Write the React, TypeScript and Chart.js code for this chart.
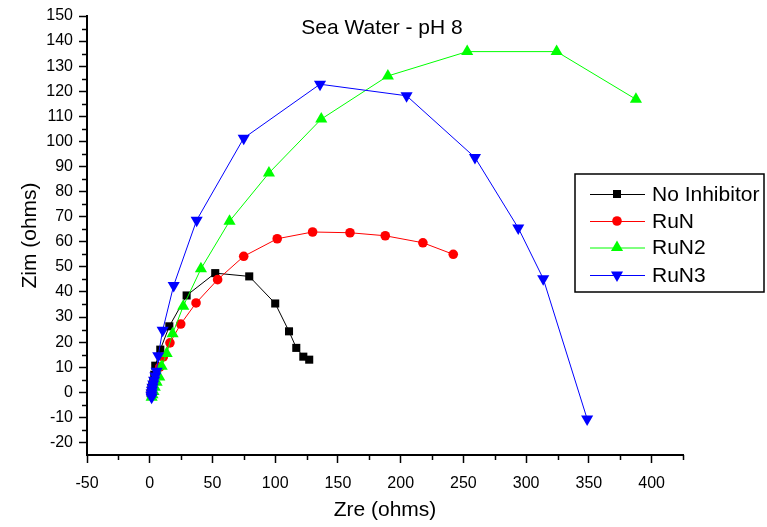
import React, { useEffect, useRef } from 'react';
import { Chart, registerables } from 'chart.js';

Chart.register(...registerables);

const TITLE = 'Sea Water - pH 8';
const X_TITLE = 'Zre (ohms)';
const Y_TITLE = 'Zim (ohms)';
const SERIES_NAMES = ['No Inhibitor', 'RuN', 'RuN2', 'RuN3'];
const SERIES_COLORS = ['#000000', '#ff0000', '#00ff00', '#0000ff'];

const noInhX = [0.7, 1.0, 1.4, 2.0, 2.8, 3.6, 4.4, 8.4, 15.6, 29.4, 52.2, 79.3, 100, 111, 116.8, 122.4, 127.1];
const noInhY = [-0.3, 0.6, 1.5, 2.8, 4.5, 7.0, 10.6, 17.0, 26.3, 38.6, 47.5, 46.2, 35.4, 24.3, 17.7, 14.2, 13.0];

const runX = [1.2, 1.8, 2.6, 3.8, 5.5, 8.0, 10.8, 16.1, 24.7, 36.9, 54.1, 74.9, 101.6, 129.8, 159.6, 187.7, 217.7, 241.9];
const runY = [-0.3, 0.8, 2.2, 4.0, 6.5, 10.0, 14.1, 19.7, 27.2, 35.6, 44.9, 54.2, 61.2, 63.9, 63.6, 62.4, 59.6, 55.0];

const run2X = [1.5, 2.2, 3.0, 4.0, 5.5, 7.6, 9.5, 13.5, 18.2, 26.7, 40.8, 63.6, 95.0, 136.7, 189.8, 253, 324.3, 387.5];
const run2Y = [-2.0, -1.0, 0.3, 2.0, 4.0, 6.1, 10.4, 15.5, 23.3, 34.3, 49.2, 68.2, 87.4, 108.9, 126.1, 135.8, 135.8, 116.8];

const run3X = [1.5, 1.3, 1.5, 1.8, 2.2, 2.8, 3.5, 4.5, 5.5, 6.8, 10.3, 19.1, 37.4, 74.9, 135.7, 204.7, 259.2, 293.7, 313.6, 348.6];
const run3Y = [-2.0, -1.2, -0.3, 0.8, 2.0, 3.3, 4.8, 6.5, 8.4, 14.6, 24.7, 42.6, 68.6, 101.3, 122.8, 118.2, 93.6, 65.5, 45.3, -10.6];

const X_MIN = -50;
const X_MAX = 425;
const X_MAJOR = 50;
const X_MINOR = 25;
const Y_MIN = -25;
const Y_MAX = 150;
const Y_MAJOR = 10;
const Y_MINOR = 5;

const FONT = 'Liberation Sans, Arial, sans-serif';

const toPoints = (xs: number[], ys: number[]) => xs.map((x, i) => ({ x, y: ys[i] }));

function drawMarker(ctx: CanvasRenderingContext2D, kind: number, x: number, y: number, color: string) {
  ctx.save();
  ctx.fillStyle = color;
  ctx.beginPath();
  if (kind === 0) {
    ctx.rect(x - 4, y - 4, 8, 8);
  } else if (kind === 1) {
    ctx.arc(x, y, 4.8, 0, Math.PI * 2);
  } else if (kind === 2) {
    ctx.moveTo(x, y - 7);
    ctx.lineTo(x + 6.06, y + 3.5);
    ctx.lineTo(x - 6.06, y + 3.5);
    ctx.closePath();
  } else {
    ctx.moveTo(x, y + 7);
    ctx.lineTo(x + 6.06, y - 3.5);
    ctx.lineTo(x - 6.06, y - 3.5);
    ctx.closePath();
  }
  ctx.fill();
  ctx.restore();
}

const decorPlugin = {
  id: 'decor',
  afterDraw(chart: any) {
    const ctx: CanvasRenderingContext2D = chart.ctx;
    const area = chart.chartArea;
    const xs = chart.scales.x;
    const ys = chart.scales.y;
    ctx.save();
    // minor ticks
    ctx.strokeStyle = '#000';
    ctx.lineWidth = 1.5;
    ctx.beginPath();
    for (let v = X_MIN; v <= X_MAX + 1e-9; v += X_MINOR) {
      if (Math.abs(v % X_MAJOR) < 1e-9) continue;
      const px = Math.round(xs.getPixelForValue(v)) + 0.5;
      ctx.moveTo(px, area.bottom);
      ctx.lineTo(px, area.bottom + 5);
    }
    for (let v = Y_MIN; v <= Y_MAX + 1e-9; v += Y_MINOR) {
      if (Math.abs(v % Y_MAJOR) < 1e-9) continue;
      if (v === Y_MIN) continue;
      const py = Math.round(ys.getPixelForValue(v)) + 0.5;
      ctx.moveTo(area.left - 5, py);
      ctx.lineTo(area.left, py);
    }
    ctx.stroke();

    // title inside plot
    ctx.fillStyle = '#000';
    ctx.font = `21px ${FONT}`;
    ctx.textAlign = 'center';
    ctx.textBaseline = 'alphabetic';
    ctx.fillText(TITLE, (area.left + area.right) / 2 - 3, 34);

    // legend
    const bx = 575, by = 174, bw = 189, bh = 118;
    ctx.fillStyle = '#fff';
    ctx.fillRect(bx, by, bw, bh);
    ctx.strokeStyle = '#000';
    ctx.lineWidth = 1.5;
    ctx.strokeRect(bx, by, bw, bh);
    const rows = [194, 221, 247.5, 275];
    SERIES_NAMES.forEach((name, i) => {
      const y = rows[i];
      ctx.strokeStyle = SERIES_COLORS[i];
      ctx.lineWidth = 1;
      ctx.beginPath();
      ctx.moveTo(590, y + 0.5);
      ctx.lineTo(645, y + 0.5);
      ctx.stroke();
      drawMarker(ctx, i, 617, y, SERIES_COLORS[i]);
      ctx.fillStyle = '#000';
      ctx.font = `21px ${FONT}`;
      ctx.textAlign = 'left';
      ctx.textBaseline = 'middle';
      ctx.fillText(name, 652, y + 1);
    });
    ctx.restore();
  },
};

export default function App() {
  const ref = useRef<HTMLCanvasElement | null>(null);

  useEffect(() => {
    if (!ref.current) return;
    const mk = (i: number, xs: number[], ys: number[], style: any, radius: number, rotation: number, order: number) => ({
      label: SERIES_NAMES[i],
      data: toPoints(xs, ys),
      showLine: true,
      borderColor: SERIES_COLORS[i],
      backgroundColor: SERIES_COLORS[i],
      borderWidth: 1,
      pointStyle: style,
      pointRadius: radius,
      pointRotation: rotation,
      pointBorderWidth: 0,
      pointBackgroundColor: SERIES_COLORS[i],
      pointBorderColor: SERIES_COLORS[i],
      order,
    });
    const chart = new Chart(ref.current, {
      type: 'scatter',
      data: {
        datasets: [
          mk(0, noInhX, noInhY, 'rect', 5.7, 0, 4),
          mk(1, runX, runY, 'circle', 4.8, 0, 3),
          mk(2, run2X, run2Y, 'triangle', 7, 0, 2),
          mk(3, run3X, run3Y, 'triangle', 7, 180, 1),
        ],
      },
      options: {
        responsive: false,
        animation: false,
        devicePixelRatio: 1,
        layout: { padding: { top: 16, right: 84, left: 0, bottom: 0 } },
        plugins: {
          legend: { display: false },
          tooltip: { enabled: false },
          title: { display: false },
        },
        scales: {
          x: {
            type: 'linear',
            min: X_MIN,
            max: X_MAX,
            afterBuildTicks: (scale: any) => {
              scale.ticks = scale.ticks.filter((t: any) => Math.abs(t.value % X_MAJOR) < 1e-9);
            },
            afterFit: (scale: any) => {
              scale.height = 72;
            },
            ticks: {
              stepSize: X_MAJOR,
              includeBounds: false,
              color: '#000',
              font: { family: FONT, size: 16 },
              padding: 11,
              maxRotation: 0,
              autoSkip: false,
            },
            grid: {
              display: true,
              drawOnChartArea: false,
              drawTicks: true,
              tickLength: 8,
              tickWidth: 1.5,
              tickColor: '#000',
            },
            border: { display: true, color: '#000', width: 2 },
            title: {
              display: true,
              text: X_TITLE,
              color: '#000',
              font: { family: FONT, size: 21 },
              padding: { top: 0, bottom: 4 },
            },
          },
          y: {
            type: 'linear',
            min: Y_MIN,
            max: Y_MAX,
            afterBuildTicks: (scale: any) => {
              scale.ticks = scale.ticks.filter((t: any) => Math.abs(t.value % Y_MAJOR) < 1e-9);
            },
            afterFit: (scale: any) => {
              scale.width = 87;
            },
            ticks: {
              stepSize: Y_MAJOR,
              includeBounds: false,
              color: '#000',
              font: { family: FONT, size: 16 },
              padding: 6,
              autoSkip: false,
            },
            grid: {
              display: true,
              drawOnChartArea: false,
              drawTicks: true,
              tickLength: 8,
              tickWidth: 1.5,
              tickColor: '#000',
            },
            border: { display: true, color: '#000', width: 2 },
            title: {
              display: true,
              text: Y_TITLE,
              color: '#000',
              font: { family: FONT, size: 21 },
              padding: { top: 18, bottom: 0 },
            },
          },
        },
      },
      plugins: [decorPlugin],
    } as any);
    return () => chart.destroy();
  }, []);

  return (
    <div style={{ position: 'fixed', left: 0, top: 0, width: 767, height: 527, background: '#fff' }}>
      <canvas ref={ref} width={767} height={527} style={{ display: 'block', width: 767, height: 527 }} />
    </div>
  );
}
